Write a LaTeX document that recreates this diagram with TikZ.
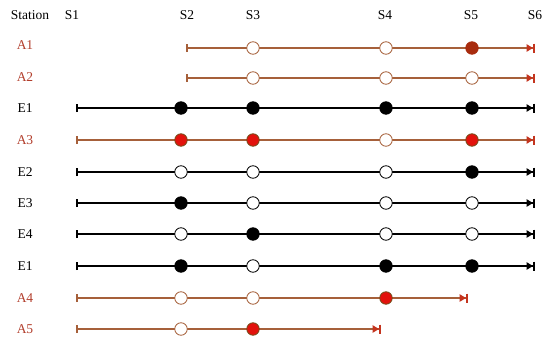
\documentclass[tikz,border=0pt]{standalone}
\usepackage{fontspec}
\setmainfont{Liberation Serif}
\usetikzlibrary{arrows.meta}
\definecolor{brn}{RGB}{166,96,58}
\definecolor{lab}{RGB}{178,62,44}
\definecolor{tipr}{RGB}{196,52,30}
\definecolor{redf}{RGB}{226,18,12}
\definecolor{redd}{RGB}{120,80,30}
\definecolor{darkf}{RGB}{168,44,14}
\begin{document}
\begin{tikzpicture}[x=1pt,y=-1pt,
  every node/.style={font=\fontsize{13.5}{15}\selectfont},
  hdr/.style={anchor=center},
  elab/.style={anchor=center,text=black},
  alab/.style={anchor=center,text=lab},
  eline/.style={draw=black,line width=1.2pt,{Bar[width=8pt,line width=1.6pt]}-{Triangle[length=6.5pt,width=7.5pt]Bar[width=9pt,line width=2pt]}},
  aline/.style={draw=brn,line width=1.2pt,{Bar[width=8pt,line width=1.6pt,color=brn]}-{Triangle[length=6.5pt,width=7.5pt,color=tipr]Bar[width=9pt,line width=2pt,color=tipr]}},
  eo/.style={circle,draw=black,fill=white,line width=0.8pt,minimum size=12.5pt,inner sep=0pt},
  ef/.style={circle,draw=black,fill=black,line width=0.8pt,minimum size=12.5pt,inner sep=0pt},
  ao/.style={circle,draw=brn,fill=white,line width=0.8pt,minimum size=12.5pt,inner sep=0pt},
  ar/.style={circle,draw=redd,fill=redf,line width=0.8pt,minimum size=12.5pt,inner sep=0pt},
  ad/.style={circle,draw=darkf,fill=darkf,line width=0.8pt,minimum size=12.5pt,inner sep=0pt},
]
\useasboundingbox (0,0) rectangle (550,348);
% headers
\node[hdr] (hst) at (30,15) {Station};
\node[hdr] (h1) at (72,15) {S1};
\node[hdr] (h2) at (187,15) {S2};
\node[hdr] (h3) at (253,15) {S3};
\node[hdr] (h4) at (385,15) {S4};
\node[hdr] (h5) at (471,15) {S5};
\node[hdr] (h6) at (535,15) {S6};
% labels
\node[alab] (l1) at (25,45) {A1};
\node[alab] (l2) at (25,77) {A2};
\node[elab] (l3) at (25,108) {E1};
\node[alab] (l4) at (25,140) {A3};
\node[elab] (l5) at (25,172) {E2};
\node[elab] (l6) at (25,203) {E3};
\node[elab] (l7) at (25,234) {E4};
\node[elab] (l8) at (25,266) {E1};
\node[alab] (l9) at (25,298) {A4};
\node[alab] (l10) at (25,329) {A5};
% row A1
\coordinate (r1s) at (186,48); \coordinate (r1e) at (535,48);
\draw[aline] (r1s) -- (r1e);
\node[ao] (r1c3) at (253,48) {}; \node[ao] (r1c4) at (386,48) {}; \node[ad] (r1c5) at (472,48) {};
% row A2
\coordinate (r2s) at (186,78); \coordinate (r2e) at (535,78);
\draw[aline] (r2s) -- (r2e);
\node[ao] (r2c3) at (253,78) {}; \node[ao] (r2c4) at (386,78) {}; \node[ao] (r2c5) at (472,78) {};
% row E1
\coordinate (r3s) at (76,108); \coordinate (r3e) at (535,108);
\draw[eline] (r3s) -- (r3e);
\node[ef] (r3c2) at (181,108) {}; \node[ef] (r3c3) at (253,108) {}; \node[ef] (r3c4) at (386,108) {}; \node[ef] (r3c5) at (472,108) {};
% row A3
\coordinate (r4s) at (76,140); \coordinate (r4e) at (535,140);
\draw[aline] (r4s) -- (r4e);
\node[ar] (r4c2) at (181,140) {}; \node[ar] (r4c3) at (253,140) {}; \node[ao] (r4c4) at (386,140) {}; \node[ar] (r4c5) at (472,140) {};
% row E2
\coordinate (r5s) at (76,172); \coordinate (r5e) at (535,172);
\draw[eline] (r5s) -- (r5e);
\node[eo] (r5c2) at (181,172) {}; \node[eo] (r5c3) at (253,172) {}; \node[eo] (r5c4) at (386,172) {}; \node[ef] (r5c5) at (472,172) {};
% row E3
\coordinate (r6s) at (76,203); \coordinate (r6e) at (535,203);
\draw[eline] (r6s) -- (r6e);
\node[ef] (r6c2) at (181,203) {}; \node[eo] (r6c3) at (253,203) {}; \node[eo] (r6c4) at (386,203) {}; \node[eo] (r6c5) at (472,203) {};
% row E4
\coordinate (r7s) at (76,234); \coordinate (r7e) at (535,234);
\draw[eline] (r7s) -- (r7e);
\node[eo] (r7c2) at (181,234) {}; \node[ef] (r7c3) at (253,234) {}; \node[eo] (r7c4) at (386,234) {}; \node[eo] (r7c5) at (472,234) {};
% row E1 (second)
\coordinate (r8s) at (76,266); \coordinate (r8e) at (535,266);
\draw[eline] (r8s) -- (r8e);
\node[ef] (r8c2) at (181,266) {}; \node[eo] (r8c3) at (253,266) {}; \node[ef] (r8c4) at (386,266) {}; \node[ef] (r8c5) at (472,266) {};
% row A4
\coordinate (r9s) at (76,298); \coordinate (r9e) at (468,298);
\draw[aline] (r9s) -- (r9e);
\node[ao] (r9c2) at (181,298) {}; \node[ao] (r9c3) at (253,298) {}; \node[ar] (r9c4) at (386,298) {};
% row A5
\coordinate (r10s) at (76,329); \coordinate (r10e) at (381,329);
\draw[aline] (r10s) -- (r10e);
\node[ao] (r10c2) at (181,329) {}; \node[ar] (r10c3) at (253,329) {};
\end{tikzpicture}
\end{document}
